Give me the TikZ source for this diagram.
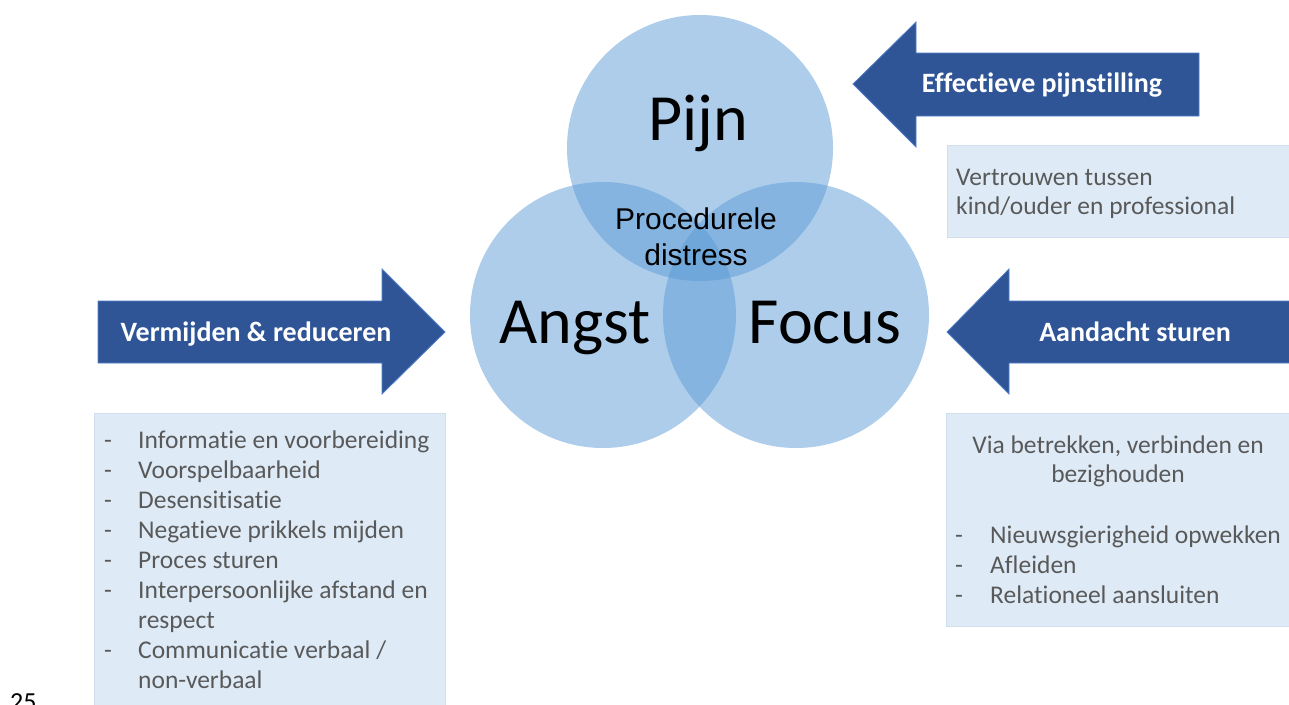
\documentclass[tikz,border=0pt]{standalone}
\usepackage{fontspec}
\setmainfont[RawFeature=-liga]{Carlito}
\newfontfamily\arialf{Liberation Sans}
\definecolor{circ}{RGB}{91,155,213}
\definecolor{arrowblue}{RGB}{47,85,151}
\definecolor{arrowedge}{RGB}{80,125,200}
\definecolor{boxfill}{RGB}{222,235,247}
\definecolor{boxedge}{RGB}{208,222,238}
\definecolor{textgrey}{RGB}{89,89,89}
\tikzset{
  venn/.style={circle, fill=circ, fill opacity=0.5, minimum size=266pt, inner sep=0pt},
  bigword/.style={font=\fontsize{66}{70}\selectfont, inner sep=0pt, anchor=base},
  centretext/.style={font=\arialf\fontsize{30}{36}\selectfont, inner sep=0pt, anchor=base},
  arrowshape/.style={fill=arrowblue, draw=arrowedge, line width=0.8pt},
  arrowtext/.style={font=\bfseries\fontsize{28}{32}\selectfont, text=white, inner sep=0pt, anchor=base},
  infobox/.style={fill=boxfill, draw=boxedge, line width=0.6pt},
  boxtext/.style={font=\fontsize{25.5}{30}\selectfont, text=textgrey, inner sep=0pt},
}
\begin{document}
\begin{tikzpicture}[x=1pt,y=-1pt]
\useasboundingbox (0,0) rectangle (1289,704);

% Venn circles
\node[venn] (pijn)  at (700,148) {};
\node[venn] (angst) at (603,315) {};
\node[venn] (focus) at (796,315) {};

\node[bigword] (tpijn)  at (698,140) {Pijn};
\node[bigword] (tangst) at (575,343) {Angst};
\node[bigword] (tfocus) at (825,343) {Focus};
\node[centretext] (tproc) at (696,229) {\begin{tabular}[t]{@{}c@{}}Procedurele\\distress\end{tabular}};

% Arrows
\path[arrowshape] (853,84) -- (916,22) -- (916,53) -- (1199,53) -- (1199,116) -- (916,116) -- (916,147) -- cycle;
\node[arrowtext] (aeff) at (1042,92) {Effectieve pijnstilling};

\path[arrowshape] (98,301) -- (382,301) -- (382,269) -- (445,332) -- (382,394) -- (382,363) -- (98,363) -- cycle;
\node[arrowtext] (averm) at (256,341) {Vermijden \& reduceren};

\path[arrowshape] (947,332) -- (1009,269) -- (1009,301) -- (1300,301) -- (1300,363) -- (1009,363) -- (1009,394) -- cycle;
\node[arrowtext] (aaand) at (1135,341) {Aandacht sturen};

% Boxes
\path[infobox] (947,145) rectangle (1300,237);
\node[boxtext, font=\fontsize{25.5}{29}\selectfont, anchor=base west] (bvert) at (956,185)
  {\begin{tabular}[t]{@{}l@{}}Vertrouwen tussen\\kind/ouder en professional\end{tabular}};

\path[infobox] (94,413) rectangle (445,720);
\node[boxtext, anchor=base west] (blist) at (104,448)
  {\begin{tabular}[t]{@{}p{34pt}@{}l@{}}
  -& Informatie en voorbereiding\\
  -& Voorspelbaarheid\\
  -& Desensitisatie\\
  -& Negatieve prikkels mijden\\
  -& Proces sturen\\
  -& Interpersoonlijke afstand en\\
   & respect\\
  -& Communicatie verbaal /\\
   & non-verbaal
  \end{tabular}};

\path[infobox] (946,413) rectangle (1300,626);
\node[boxtext, font=\fontsize{25.5}{29}\selectfont, anchor=base] (bvia) at (1118,453)
  {\begin{tabular}[t]{@{}c@{}}Via betrekken, verbinden en\\bezighouden\end{tabular}};
\node[boxtext, anchor=base west] (bfocus) at (955,543)
  {\begin{tabular}[t]{@{}p{35pt}@{}l@{}}
  -& Nieuwsgierigheid opwekken\\
  -& Afleiden\\
  -& Relationeel aansluiten
  \end{tabular}};

% slide number
\node[font=\fontsize{26}{30}\selectfont, inner sep=0pt, anchor=base west] (slidenr) at (10,710) {25};
\end{tikzpicture}
\end{document}
